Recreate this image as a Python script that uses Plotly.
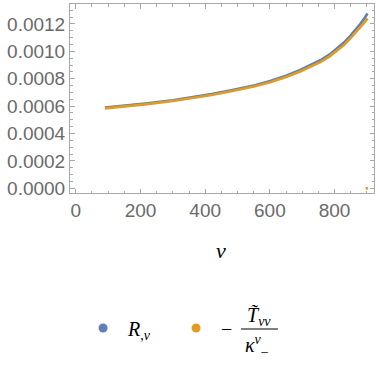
import plotly.graph_objects as go

# curve samples
v_vals = [90, 150, 214, 300, 368, 420, 477, 554, 601, 650, 694, 730,
          756, 785, 807, 830, 848, 865, 880, 892, 902]
r_v = [0.000590, 0.000603, 0.000619, 0.000643, 0.000667, 0.000688, 0.000714,
       0.000753, 0.000783, 0.000822, 0.000864, 0.000902, 0.000935, 0.000978,
       0.001018, 0.001066, 0.001112, 0.001158, 0.001202, 0.001240, 0.001277]
t_over_k = [0.000584, 0.000597, 0.000613, 0.000637, 0.000661, 0.000681, 0.000707,
            0.000745, 0.000775, 0.000813, 0.000853, 0.000890, 0.000922, 0.000964,
            0.001003, 0.001049, 0.001093, 0.001136, 0.001176, 0.001210, 0.001241]
stray_v = [900]
stray_val = [0.0]

x_ticks = [0, 200, 400, 600, 800]
y_ticks = [0.0, 0.0002, 0.0004, 0.0006, 0.0008, 0.0010, 0.0012]
y_labels = ["0.0000", "0.0002", "0.0004", "0.0006", "0.0008", "0.0010", "0.0012"]

BLUE = "#5E81B5"
ORANGE = "#E19C24"
FRAME = "#a8a8a8"
SERIF = "Liberation Serif"

fig = go.Figure()
fig.add_trace(go.Scatter(x=v_vals, y=r_v, mode="lines",
                         line=dict(color=BLUE, width=2.6), showlegend=False))
fig.add_trace(go.Scatter(x=v_vals, y=t_over_k, mode="lines",
                         line=dict(color=ORANGE, width=2.6), showlegend=False))
fig.add_trace(go.Scatter(x=stray_v, y=stray_val, mode="markers",
                         marker=dict(color=ORANGE, size=2.5, symbol="square"),
                         showlegend=False))

# legend entries (dots only)
fig.add_trace(go.Scatter(x=[None], y=[None], mode="markers",
                         marker=dict(color=BLUE, size=9),
                         name=" <i>R</i><sub>,<i>v</i></sub>"))
fig.add_trace(go.Scatter(x=[None], y=[None], mode="markers",
                         marker=dict(color=ORANGE, size=9),
                         name=" −"))

axis_common = dict(
    showline=True, mirror="allticks", linecolor=FRAME, linewidth=1,
    ticks="inside", tickcolor=FRAME, ticklen=4.5, tickwidth=1,
    showgrid=False, zeroline=False,
    tickfont=dict(family="Liberation Sans", size=19, color="#6a6a6a"),
)
fig.update_xaxes(range=[-18, 922], tickvals=x_ticks,
                 minor=dict(dtick=50, tick0=0, ticks="inside", ticklen=2.5,
                            tickcolor=FRAME, showgrid=False),
                 **axis_common)
fig.update_yaxes(range=[-0.0000343, 0.001346], tickvals=y_ticks, ticktext=y_labels,
                 minor=dict(dtick=0.00005, tick0=0, ticks="inside", ticklen=2.5,
                            tickcolor=FRAME, showgrid=False),
                 **axis_common)

txt = dict(xref="paper", yref="paper", showarrow=False,
           xanchor="center", yanchor="middle")
fig.update_layout(
    width=375, height=377,
    margin=dict(l=70, r=1, t=4, b=184),
    plot_bgcolor="white", paper_bgcolor="white",
    legend=dict(orientation="h", x=0.043, xanchor="left", y=-0.714, yanchor="middle",
                font=dict(family=SERIF, size=20, color="black"),
                entrywidth=48, itemwidth=30, bgcolor="rgba(0,0,0,0)"),
    annotations=[
        dict(text="<i>v</i>", x=0.497, y=-0.302,
             font=dict(family=SERIF, size=22, color="black"), **txt),
        dict(text="<i>T̃</i><sub><i>vv</i></sub>", x=0.622, y=-0.651,
             font=dict(family=SERIF, size=20, color="black"), **txt),
        dict(text="<i>κ</i><sup><i>v</i></sup><sub>−</sub>", x=0.615, y=-0.810,
             font=dict(family=SERIF, size=20, color="black"), **txt),
    ],
    shapes=[dict(type="line", xref="paper", yref="paper",
                 x0=0.5625, x1=0.684, y0=-0.7196, y1=-0.7196,
                 line=dict(color="black", width=1))],
)

# page body has a default 8px margin; drop it so the figure sits at the window origin
fig.write_html("out.html", config={"displayModeBar": False},
               post_script="document.body.style.margin='0';")
